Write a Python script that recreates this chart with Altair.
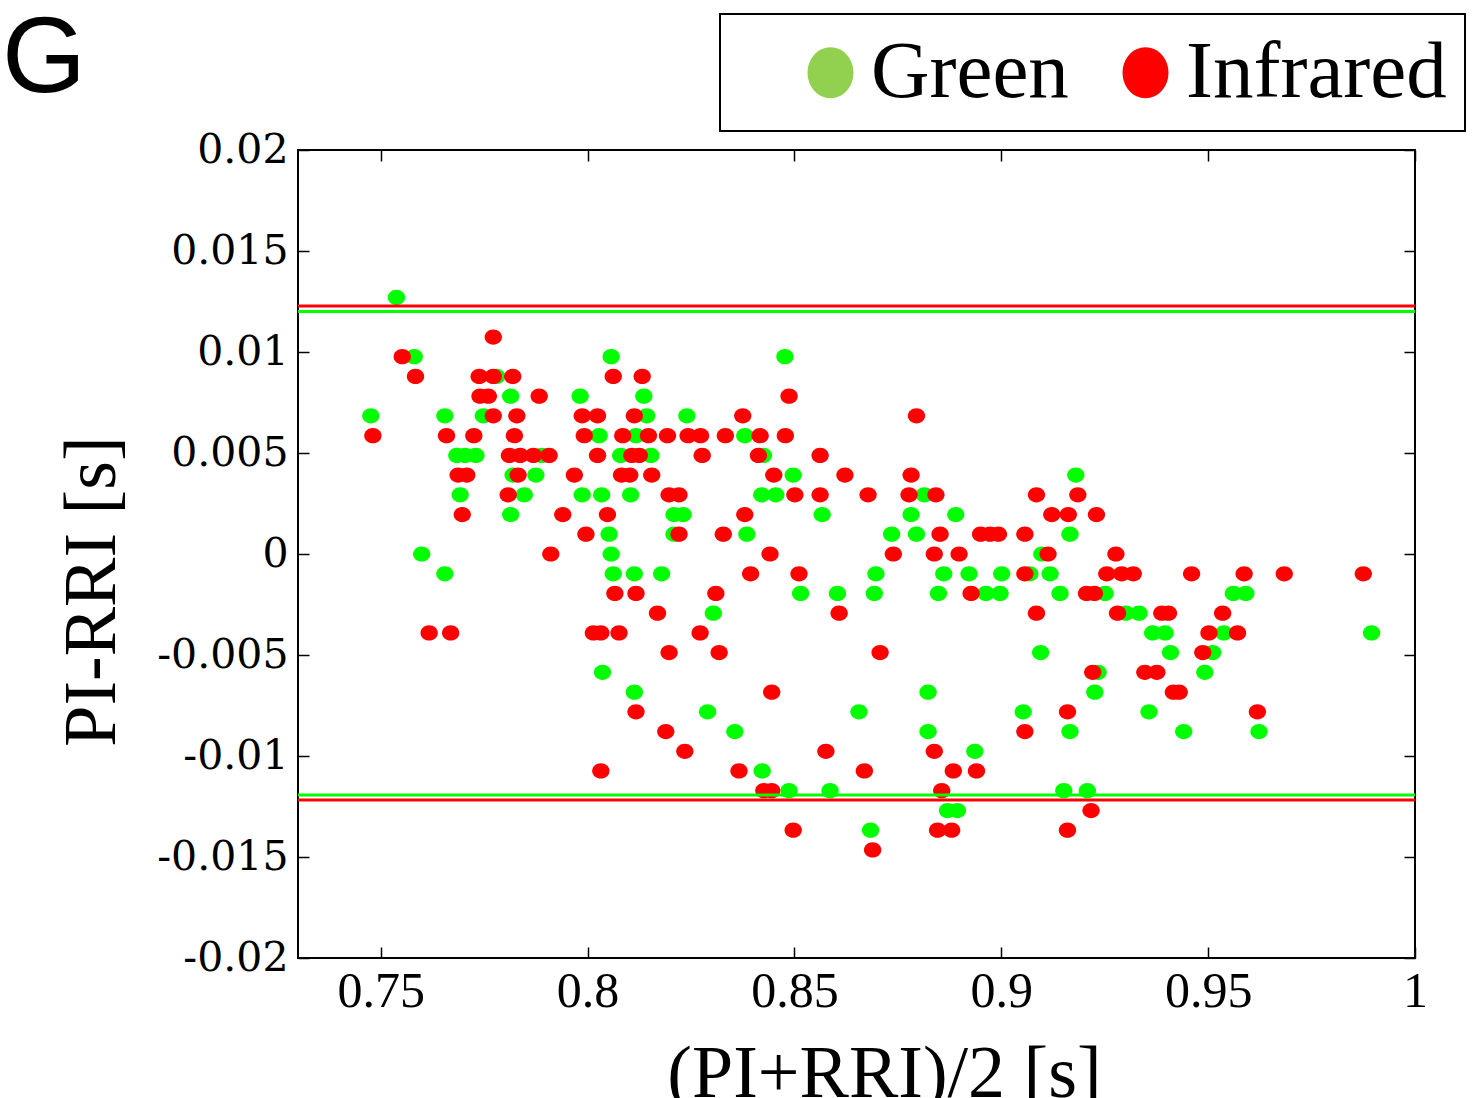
import altair as alt
import pandas as pd

# ---------------- data ----------------
series_names = ["Green", "Infrared"]
point_colors = ["#00ff00", "#ff0000"]
legend_colors = ["#92d050", "#ff0000"]

green_x = [
    0.7538,
    0.7581, 0.8057, 0.8477,
    0.7780,
    0.7814, 0.7982, 0.8136,
    0.7476, 0.7655, 0.7748, 0.8143, 0.8240,
    0.8028, 0.8117, 0.8380,
    0.7684, 0.7704, 0.7730, 0.7889, 0.8080, 0.8153, 0.8425,
    0.7820, 0.7875, 0.8497, 0.9180,
    0.7692, 0.7847, 0.7987, 0.8034, 0.8104, 0.8421, 0.8455, 0.8814,
    0.7814, 0.8209, 0.8231, 0.8567, 0.8782, 0.8890,
    0.8052, 0.8209, 0.8385, 0.8735, 0.8795, 0.9166,
    0.7599, 0.8057, 0.9098,
    0.7655, 0.8062, 0.8113, 0.8179, 0.8697, 0.8861, 0.8922, 0.9001, 0.9069, 0.9118,
    0.8515, 0.8604, 0.8693, 0.8848, 0.8963, 0.8997, 0.9142, 0.9251, 0.9561, 0.9591,
    0.8304, 0.9301, 0.9333,
    0.9366, 0.9396, 0.9538, 0.9895,
    0.9095, 0.9409, 0.9511,
    0.8036, 0.9234, 0.9492,
    0.8113, 0.8823, 0.9226,
    0.8290, 0.8656, 0.9053, 0.9357,
    0.8356, 0.8823, 0.9166, 0.9441, 0.9623,
    0.8936,
    0.8422,
    0.8487, 0.8586, 0.9151, 0.9208,
    0.8870, 0.8894,
    0.8684,
]
green_y = [
    0.0127,
    0.00977, 0.00977, 0.00977,
    0.00879,
    0.00781, 0.00781, 0.00781,
    0.00684, 0.00684, 0.00684, 0.00684, 0.00684,
    0.00586, 0.00586, 0.00586,
    0.00488, 0.00488, 0.00488, 0.00488, 0.00488, 0.00488, 0.00488,
    0.00391, 0.00391, 0.00391, 0.00391,
    0.00293, 0.00293, 0.00293, 0.00293, 0.00293, 0.00293, 0.00293, 0.00293,
    0.00195, 0.00195, 0.00195, 0.00195, 0.00195, 0.00195,
    0.00098, 0.00098, 0.00098, 0.00098, 0.00098, 0.00098,
    0.0, 0.0, 0.0,
    -0.00098, -0.00098, -0.00098, -0.00098, -0.00098, -0.00098, -0.00098, -0.00098, -0.00098, -0.00098,
    -0.00195, -0.00195, -0.00195, -0.00195, -0.00195, -0.00195, -0.00195, -0.00195, -0.00195, -0.00195,
    -0.00293, -0.00293, -0.00293,
    -0.00391, -0.00391, -0.00391, -0.00391,
    -0.00488, -0.00488, -0.00488,
    -0.00586, -0.00586, -0.00586,
    -0.00684, -0.00684, -0.00684,
    -0.00781, -0.00781, -0.00781, -0.00781,
    -0.00879, -0.00879, -0.00879, -0.00879, -0.00879,
    -0.00977,
    -0.01074,
    -0.01172, -0.01172, -0.01172, -0.01172,
    -0.0127, -0.0127,
    -0.01367,
]

red_x = [
    0.7772,
    0.7552,
    0.7584, 0.7738, 0.7772, 0.7819, 0.8062, 0.8132,
    0.7740, 0.7760, 0.7883, 0.8487,
    0.7772, 0.7829, 0.7987, 0.8024, 0.8113, 0.8375, 0.8795,
    0.7481, 0.7659, 0.7725, 0.7823, 0.7992, 0.8085, 0.8147, 0.8193, 0.8243, 0.8273, 0.8333, 0.8417, 0.8478,
    0.7811, 0.7837, 0.7869, 0.7907, 0.8024, 0.8107, 0.8125, 0.8277, 0.8413, 0.8562,
    0.7687, 0.7708, 0.7832, 0.7968, 0.8082, 0.8102, 0.8155, 0.8450, 0.8622, 0.8782,
    0.7808, 0.8197, 0.8221, 0.8501, 0.8562, 0.8678, 0.8777, 0.8842, 0.9085, 0.9185,
    0.7697, 0.7940, 0.8048, 0.8380, 0.9122, 0.9162, 0.9230,
    0.7996, 0.8221, 0.8328, 0.8852, 0.8950, 0.8973, 0.8993, 0.9057,
    0.7911, 0.8441, 0.8739, 0.8838, 0.8898, 0.9113, 0.9277,
    0.8394, 0.8511, 0.9057, 0.9255, 0.9291, 0.9319, 0.9460, 0.9587, 0.9684, 0.9875,
    0.8066, 0.8117, 0.8310, 0.8927, 0.9206, 0.9225,
    0.8169, 0.8608, 0.9085, 0.9281, 0.9388, 0.9404, 0.9535,
    0.7617, 0.7669, 0.8014, 0.8032, 0.8076, 0.8272, 0.9502, 0.9571,
    0.8197, 0.8318, 0.8707, 0.9487,
    0.9221, 0.9347, 0.9376,
    0.8445, 0.9416, 0.9430,
    0.8117, 0.9160, 0.9619,
    0.8189, 0.9057,
    0.8235, 0.8576, 0.8838,
    0.8032, 0.8366, 0.8669, 0.8884, 0.8940,
    0.8426, 0.8445, 0.8856,
    0.9217,
    0.8497, 0.8846, 0.8880, 0.9160,
    0.8689,
]
red_y = [
    0.01074,
    0.00977,
    0.00879, 0.00879, 0.00879, 0.00879, 0.00879, 0.00879,
    0.00781, 0.00781, 0.00781, 0.00781,
    0.00684, 0.00684, 0.00684, 0.00684, 0.00684, 0.00684, 0.00684,
    0.00586, 0.00586, 0.00586, 0.00586, 0.00586, 0.00586, 0.00586, 0.00586, 0.00586, 0.00586, 0.00586, 0.00586, 0.00586,
    0.00488, 0.00488, 0.00488, 0.00488, 0.00488, 0.00488, 0.00488, 0.00488, 0.00488, 0.00488,
    0.00391, 0.00391, 0.00391, 0.00391, 0.00391, 0.00391, 0.00391, 0.00391, 0.00391, 0.00391,
    0.00293, 0.00293, 0.00293, 0.00293, 0.00293, 0.00293, 0.00293, 0.00293, 0.00293, 0.00293,
    0.00195, 0.00195, 0.00195, 0.00195, 0.00195, 0.00195, 0.00195,
    0.00098, 0.00098, 0.00098, 0.00098, 0.00098, 0.00098, 0.00098, 0.00098,
    0.0, 0.0, 0.0, 0.0, 0.0, 0.0, 0.0,
    -0.00098, -0.00098, -0.00098, -0.00098, -0.00098, -0.00098, -0.00098, -0.00098, -0.00098, -0.00098,
    -0.00195, -0.00195, -0.00195, -0.00195, -0.00195, -0.00195,
    -0.00293, -0.00293, -0.00293, -0.00293, -0.00293, -0.00293, -0.00293,
    -0.00391, -0.00391, -0.00391, -0.00391, -0.00391, -0.00391, -0.00391, -0.00391,
    -0.00488, -0.00488, -0.00488, -0.00488,
    -0.00586, -0.00586, -0.00586,
    -0.00684, -0.00684, -0.00684,
    -0.00781, -0.00781, -0.00781,
    -0.00879, -0.00879,
    -0.00977, -0.00977, -0.00977,
    -0.01074, -0.01074, -0.01074, -0.01074, -0.01074,
    -0.01172, -0.01172, -0.01172,
    -0.0127,
    -0.01367, -0.01367, -0.01367, -0.01367,
    -0.01465,
]

# limits of agreement
loa_series = ["Green", "Green", "Infrared", "Infrared"]
loa_y = [0.0120, -0.01193, 0.01228, -0.01218]

x_ticks = [0.75, 0.8, 0.85, 0.9, 0.95, 1.0]
y_ticks = [-0.02, -0.015, -0.01, -0.005, 0.0, 0.005, 0.01, 0.015, 0.02]
x_domain = [0.73, 1.0]
y_domain = [-0.02, 0.02]

# ---------------- tables ----------------
pts = pd.DataFrame({
    "x": green_x + red_x,
    "y": green_y + red_y,
    "series": ["Green"] * len(green_x) + ["Infrared"] * len(red_x),
})
loa = pd.DataFrame({"y": loa_y, "series": loa_series})

# ---------------- styling ----------------
ELLIPSE = "M -1 0 A 1 0.88 0 1 1 1 0 A 1 0.88 0 1 1 -1 0 Z"
LEGEND_ELLIPSE = "M 0 -1 A 0.9 1 0 1 1 0 1 A 0.9 1 0 1 1 0 -1 Z"

x_scale = alt.Scale(domain=x_domain, nice=False, zero=False)
y_scale = alt.Scale(domain=y_domain, nice=False, zero=False)

tick_style = dict(domain=False, grid=False, ticks=True, tickSize=11, offset=-11,
                  tickColor="black", tickWidth=1.5)

x_axis_bottom = alt.Axis(
    orient="bottom", values=x_ticks, labelExpr="datum.value + ''",
    labelFont="Liberation Serif", labelFontSize=50, labelColor="black",
    labelPadding=8, labelFlush=False, labelOverlap=False,
    title="(PI+RRI)/2 [s]", titleFont="Liberation Serif", titleFontSize=74,
    titleFontWeight="normal", titleColor="black", titleX=586, titlePadding=22,
    **tick_style,
)
y_axis_left = alt.Axis(
    orient="left", values=y_ticks, labelExpr="datum.value + ''",
    labelFont="DejaVu Serif", labelFontSize=41, labelColor="black",
    labelPadding=10, labelFlush=False, labelOverlap=False,
    title="PI-RRI [s]", titleFont="Liberation Serif", titleFontSize=74,
    titleFontWeight="normal", titleColor="black", titleY=441, titlePadding=26,
    **tick_style,
)
x_axis_top = alt.Axis(orient="top", values=x_ticks, labels=False, title=None, **tick_style)
y_axis_right = alt.Axis(orient="right", values=y_ticks, labels=False, title=None, **tick_style)

legend = alt.Legend(
    orient="none", legendX=422, legendY=-136, direction="horizontal",
    title=" ", titleOrient="left", titleFontSize=1, titleOpacity=0, titlePadding=52,
    symbolType=LEGEND_ELLIPSE, symbolSize=2601, symbolOpacity=1, symbolStrokeWidth=0,
    labelFont="Liberation Serif", labelFontSize=81, labelColor="black",
    labelOffset=0, labelLimit=600, columnPadding=36, padding=18,
    strokeColor="black", fillColor="white",
)

# invisible layer: carries the legend and the mirrored top/right ticks
legend_layer = alt.Chart(pts).mark_point(shape=ELLIPSE, filled=True, opacity=0, size=1).encode(
    x=alt.X("x:Q", scale=x_scale, axis=x_axis_top),
    y=alt.Y("y:Q", scale=y_scale, axis=y_axis_right),
    color=alt.Color("series:N", scale=alt.Scale(domain=series_names, range=legend_colors), legend=legend),
)

points = alt.Chart(pts).mark_point(shape=ELLIPSE, filled=True, size=300, opacity=1, strokeWidth=0).encode(
    x=alt.X("x:Q", scale=x_scale, axis=x_axis_bottom),
    y=alt.Y("y:Q", scale=y_scale, axis=y_axis_left),
    color=alt.Color("series:N", scale=alt.Scale(domain=series_names, range=point_colors), legend=None),
)

lines = alt.Chart(loa).mark_rule(strokeWidth=3).encode(
    y=alt.Y("y:Q", scale=y_scale, axis=None),
    color=alt.Color("series:N", scale=alt.Scale(domain=series_names, range=point_colors), legend=None),
)

chart = (
    alt.layer(legend_layer, points, lines)
    .resolve_scale(color="independent")
    .resolve_axis(x="independent", y="independent")
    .properties(
        width=1117,
        height=808,
        autosize=alt.AutoSizeParams(type="none"),
        padding={"left": 298, "top": 150, "right": 60, "bottom": 140},
        background="white",
        title=alt.TitleParams(
            "G", anchor="start", frame="group", font="Liberation Sans", fontSize=108,
            fontWeight="normal", color="black", dx=-296, dy=106,
        ),
    )
    .configure_view(stroke="black", strokeWidth=2)
    .configure_legend(strokeWidth=2)
)

chart.save("out.html", embed_options={"renderer": "svg", "actions": False})
